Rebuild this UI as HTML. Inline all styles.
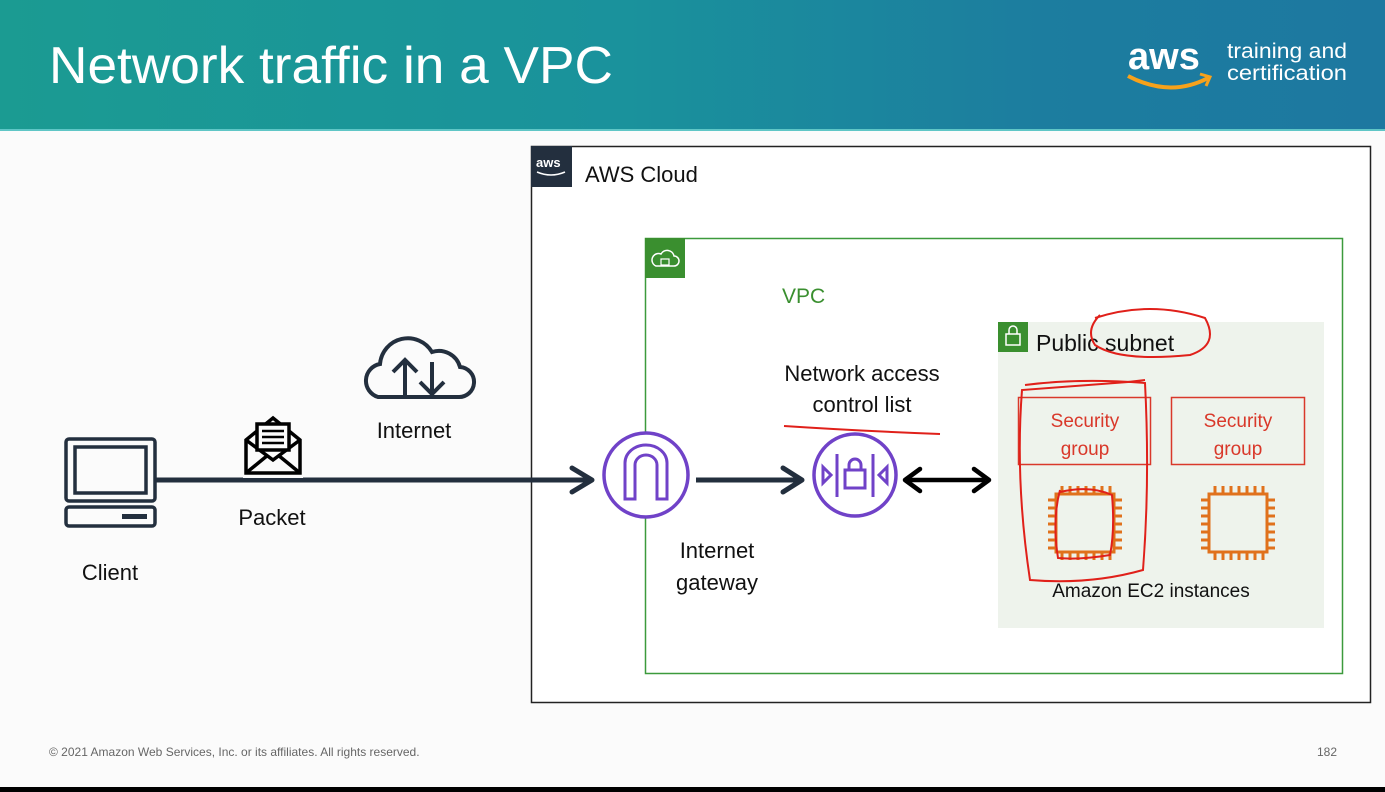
<!DOCTYPE html>
<html><head><meta charset="utf-8"><style>
body{margin:0;width:1385px;height:792px;overflow:hidden;background:#fbfbfb;font-family:"Liberation Sans",sans-serif}
.hdr{position:absolute;left:0;top:0;width:1385px;height:129px;background:linear-gradient(90deg,#1b9b92 0%,#1a929c 45%,#1c7d9f 75%,#1d78a0 100%)}
.hdr:after{content:"";position:absolute;left:0;top:129px;width:1385px;height:2px;background:#5fc6c6}
svg{position:absolute;left:0;top:0}
</style></head><body>
<div class="hdr"></div>
<svg width="1385" height="792" viewBox="0 0 1385 792" font-family="Liberation Sans, sans-serif">
<text x="49" y="83" font-size="52" fill="#fff" textLength="564" lengthAdjust="spacingAndGlyphs">Network traffic in a VPC</text>
<text x="1128" y="69" font-size="38" font-weight="bold" fill="#fff">aws</text>
<path d="M1128 76 Q1170 98 1208 78" stroke="#f7a21b" stroke-width="4" fill="none"/>
<path d="M1200 74 L1210 77 L1206 86" stroke="#f7a21b" stroke-width="3" fill="none"/>
<text x="1227" y="58" font-size="21" fill="#fff" textLength="120" lengthAdjust="spacingAndGlyphs">training and</text>
<text x="1227" y="80" font-size="21" fill="#fff" textLength="120" lengthAdjust="spacingAndGlyphs">certification</text>

<rect x="531.5" y="146.5" width="839" height="556" fill="#fff" stroke="#222" stroke-width="1.5"/>
<rect x="531" y="146" width="41" height="41" fill="#232f3e"/>
<text x="536" y="167" font-size="13" font-weight="bold" fill="#fff">aws</text>
<path d="M537 172 Q551 178 565 172" stroke="#fff" stroke-width="1.5" fill="none"/>
<text x="585" y="182" font-size="22" fill="#111">AWS Cloud</text>

<rect x="645.5" y="238.5" width="697" height="435" fill="#fff" stroke="#3c9a3c" stroke-width="1.5"/>
<rect x="645" y="238" width="40" height="40" fill="#3a8f2f"/>
<path d="M656 266 h18 a5 5 0 0 0 0 -10 a7 7 0 0 0 -13 -2 a5 5 0 0 0 -5 12z" stroke="#fff" stroke-width="1.5" fill="none"/>
<rect x="661" y="259" width="8" height="6" fill="none" stroke="#fff" stroke-width="1.2"/>
<text x="782" y="303" font-size="21" fill="#3a8f2f">VPC</text>

<rect x="998" y="322" width="326" height="306" fill="#eef3ec"/>
<rect x="998" y="322" width="30" height="30" fill="#3a8f2f"/>
<rect x="1006" y="334" width="14" height="11" fill="none" stroke="#fff" stroke-width="1.5"/>
<path d="M1009 334 v-4 a4 4 0 0 1 8 0 v4" stroke="#fff" stroke-width="1.5" fill="none"/>
<text x="1036" y="351" font-size="23" fill="#111">Public subnet</text>

<rect x="1018.5" y="397.5" width="132" height="67" fill="none" stroke="#d9382a" stroke-width="1.5"/>
<rect x="1171.5" y="397.5" width="133" height="67" fill="none" stroke="#d9382a" stroke-width="1.5"/>
<text x="1085" y="427" font-size="19" fill="#d9382a" text-anchor="middle">Security</text>
<text x="1085" y="455" font-size="19" fill="#d9382a" text-anchor="middle">group</text>
<text x="1238" y="427" font-size="19" fill="#d9382a" text-anchor="middle">Security</text>
<text x="1238" y="455" font-size="19" fill="#d9382a" text-anchor="middle">group</text>
<g stroke="#e0711c" stroke-width="3" fill="none">
<rect x="1056" y="494" width="58" height="58"/>
<path d="M1062 486v8M1070 486v8M1078 486v8M1086 486v8M1094 486v8M1102 486v8M1110 486v8M1062 552v8M1070 552v8M1078 552v8M1086 552v8M1094 552v8M1102 552v8M1110 552v8M1048 500h8M1048 508h8M1048 516h8M1048 524h8M1048 532h8M1048 540h8M1048 548h8M1114 500h8M1114 508h8M1114 516h8M1114 524h8M1114 532h8M1114 540h8M1114 548h8"/>
<rect x="1209" y="494" width="58" height="58"/>
<path d="M1215 486v8M1223 486v8M1231 486v8M1239 486v8M1247 486v8M1255 486v8M1263 486v8M1215 552v8M1223 552v8M1231 552v8M1239 552v8M1247 552v8M1255 552v8M1263 552v8M1201 500h8M1201 508h8M1201 516h8M1201 524h8M1201 532h8M1201 540h8M1201 548h8M1267 500h8M1267 508h8M1267 516h8M1267 524h8M1267 532h8M1267 540h8M1267 548h8"/>
</g>
<text x="1151" y="597" font-size="19" fill="#111" text-anchor="middle">Amazon EC2 instances</text>

<g stroke="#e0201a" stroke-width="2" fill="none">
<path d="M1095 318 Q1150 300 1205 318 Q1220 345 1190 355 Q1120 362 1095 345 Q1085 330 1100 315"/>
<path d="M1025 385 Q1080 378 1145 383 Q1150 480 1143 570 Q1090 585 1030 580 Q1015 480 1022 390 L1128 382 1145 380"/>
<path d="M1060 492 Q1090 485 1112 495 Q1115 530 1110 555 Q1080 560 1058 558 Q1052 520 1060 490"/>
<path d="M784 426 Q860 431 940 434"/>
</g>

<g stroke="#232f3e" stroke-width="3.5" fill="none">
<rect x="66" y="439" width="89" height="62" rx="3"/>
<rect x="75" y="447" width="71" height="46"/>
<rect x="66" y="507" width="89" height="19" rx="3"/>
</g>
<rect x="122" y="514" width="25" height="5" fill="#232f3e"/>
<text x="110" y="580" font-size="22" fill="#111" text-anchor="middle">Client</text>

<line x1="155" y1="480" x2="590" y2="480" stroke="#232f3e" stroke-width="5"/>
<path d="M572 468 L592 480 L572 492" stroke="#232f3e" stroke-width="5" fill="none" stroke-linecap="round" stroke-linejoin="round"/>

<rect x="243" y="413" width="60" height="65" fill="#fbfbfb"/>
<g stroke="#000" stroke-width="3.5" fill="none">
<path d="M246 440 L273 418 L300 440 V473 H246 Z"/>
<path d="M246 440 L273 460 L300 440"/>
<path d="M246 473 L268 455 M300 473 L278 455"/>
<rect x="257" y="424" width="32" height="26" fill="#fbfbfb"/>
<path d="M262 431h22M262 437h22M262 443h22" stroke-width="2.5"/>
</g>
<text x="272" y="525" font-size="22" fill="#111" text-anchor="middle">Packet</text>

<path d="M378 397 H458 a14 14 0 0 0 2 -30 a22 22 0 0 0 -28 -15 a28 28 0 0 0 -52 12 a17 17 0 0 0 -2 33z" stroke="#232f3e" stroke-width="4" fill="none"/>
<path d="M405 396 V360 M393 372 L405 360 L417 372 M432 362 V394 M420 382 L432 394 L444 382" stroke="#232f3e" stroke-width="4" fill="none"/>
<text x="414" y="438" font-size="22" fill="#111" text-anchor="middle">Internet</text>

<circle cx="646" cy="475" r="42" fill="#fff" stroke="#7042c8" stroke-width="3.5"/>
<path d="M625 499 V463 a21 18 0 0 1 42 0 V499 H657 V465 a11 10 0 0 0 -22 0 V499Z" stroke="#7042c8" stroke-width="3" fill="none"/>
<text x="717" y="558" font-size="22" fill="#111" text-anchor="middle">Internet</text>
<text x="717" y="590" font-size="22" fill="#111" text-anchor="middle">gateway</text>

<line x1="696" y1="480" x2="800" y2="480" stroke="#232f3e" stroke-width="5"/>
<path d="M783 468 L802 480 L783 492" stroke="#232f3e" stroke-width="5" fill="none" stroke-linecap="round" stroke-linejoin="round"/>

<circle cx="855" cy="475" r="41" fill="#fff" stroke="#7042c8" stroke-width="3.5"/>
<g stroke="#7042c8" stroke-width="3" fill="none">
<path d="M837 454 V497 M873 454 V497"/>
<rect x="845" y="470" width="20" height="18"/>
<path d="M849 470 v-5 a6 6 0 0 1 12 0 v5"/>
<path d="M823 467 L831 475 L823 483Z M887 467 L879 475 L887 483Z"/>
</g>
<text x="862" y="381" font-size="22" fill="#111" text-anchor="middle">Network access</text>
<text x="862" y="412" font-size="22" fill="#111" text-anchor="middle">control list</text>

<line x1="908" y1="480" x2="985" y2="480" stroke="#000" stroke-width="4.5"/>
<path d="M920 469 L905 480 L920 491 M974 469 L989 480 L974 491" stroke="#000" stroke-width="4.5" fill="none" stroke-linecap="round" stroke-linejoin="round"/>

<text x="49" y="756" font-size="12" fill="#666">© 2021 Amazon Web Services, Inc. or its affiliates. All rights reserved.</text>
<text x="1337" y="756" font-size="12" fill="#666" text-anchor="end">182</text>
<rect x="0" y="787" width="1385" height="5" fill="#000"/>
</svg>
</body></html>
